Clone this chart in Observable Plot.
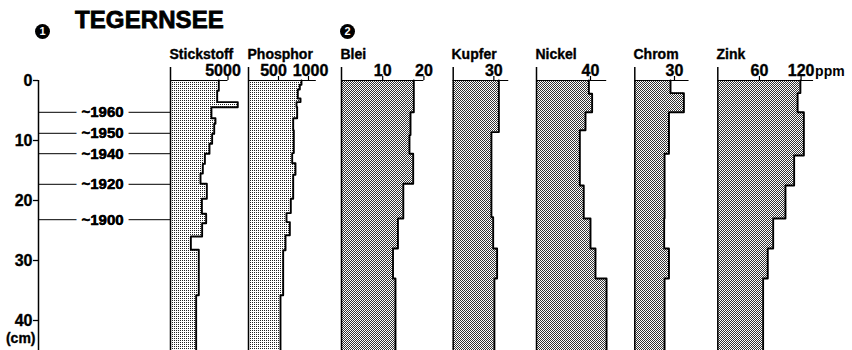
<!DOCTYPE html>
<html>
<head>
<meta charset="utf-8">
<script src="https://cdn.jsdelivr.net/npm/d3@7"></script>
<script src="https://cdn.jsdelivr.net/npm/@observablehq/plot@0.6"></script>
<style>
html, body { margin: 0; padding: 0; background: #fff; }
#chart { position: relative; width: 852px; height: 350px; overflow: hidden; font-family: 'Liberation Sans', Arial, sans-serif; }
#chart svg { position: absolute; top: 0; }
.title { position: absolute; left: 75px; top: 6px; font-size: 24px; font-weight: bold; line-height: 28px; letter-spacing: 0.1px; -webkit-text-stroke: 0.8px #000; }
.num { position: absolute; width: 15px; height: 15px; border-radius: 50%; background: #000; color: #fff; font-size: 11px; font-weight: bold; line-height: 15px; text-align: center; }
</style>
</head>
<body>
<svg width="0" height="0" style="position:absolute">
  <defs>
    <pattern id="dotsLight" width="2" height="2" patternUnits="userSpaceOnUse">
      <rect width="2" height="2" fill="#fff"/>
      <rect width="1" height="1" fill="#222"/>
    </pattern>
    <pattern id="dotsDark" width="2" height="2" patternUnits="userSpaceOnUse">
      <rect width="2" height="2" fill="#fff"/>
      <rect width="1" height="1" fill="#333"/>
      <rect x="1" y="1" width="1" height="1" fill="#333"/>
    </pattern>
  </defs>
</svg>
<div id="chart">
  <div class="title">TEGERNSEE</div>
  <div class="num" style="left:35px;top:24px">1</div>
  <div class="num" style="left:340px;top:24px">2</div>
</div>
<script>
// ---- data (depth in cm = top of each layer, values per layer) ----
const depthTicks = [0, 10, 20, 30, 40];
const dateDepth = [5.3, 8.8, 12.2, 17.3, 23.2];
const dateLabels = ["~1960", "~1950", "~1940", "~1920", "~1900"];

const panelLabels = ["Stickstoff", "Phosphor", "Blei", "Kupfer", "Nickel", "Chrom", "Zink"];

const stickstoffDepth = [0, 1.7, 3.6, 4.45, 6.3, 7.2, 8.9, 10.55, 12.2, 13.9, 15.5, 17.2, 19.7, 22.2, 23.8, 26, 28.2, 35.8];
const stickstoff      = [4200, 4060, 5850, 3560, 3910, 3800, 3620, 3390, 2990, 2810, 2610, 3160, 2730, 3100, 2750, 1770, 2460, 2230];
const stickstoffTicks = [5000];

const phosphorDepth = [0, 0.7, 1.5, 3.0, 3.6, 4.4, 6.3, 8.3, 12.1, 13.8, 15.7, 19.7, 22.1, 23.6, 25.8, 28.3, 35.8];
const phosphor      = [883, 855, 822, 867, 800, 811, 745, 755, 728, 783, 745, 705, 633, 689, 617, 578, 533];
const phosphorTicks = [500, 1000];

const bleiDepth = [0, 5.3, 9.1, 12.2, 17.2, 23.0, 28.0, 33.0];
const blei      = [17.55, 16.75, 16.5, 17.4, 15.0, 13.7, 12.5, 13.1];
const bleiTicks = [10, 20];

const kupferDepth = [0, 8.6, 22.8, 28.0, 33.0];
const kupfer      = [33.7, 28.2, 29.5, 32.4, 30.4];
const kupferTicks = [30];

const nickelDepth = [0, 2.2, 5.3, 8.3, 17.5, 23.0, 28.0, 33.0];
const nickel      = [38.8, 41.2, 36.3, 32.1, 35.0, 40.0, 43.7, 51.9];
const nickelTicks = [40];

const chromDepth = [0, 2.1, 5.3, 12.2, 23.0, 28.0, 33.0];
const chrom      = [27.0, 37.1, 25.8, 22.5, 22.2, 25.8, 22.5];
const chromTicks = [30];

const zinkDepth = [0, 2.1, 5.3, 12.5, 17.5, 23.0, 28.0, 33.0];
const zink      = [119, 115, 124, 110, 97.5, 79.8, 72, 65.3];
const zinkTicks = [60, 120];
const zinkUnit = "ppm";

// ---- layout ----
const FONT = "'Liberation Sans', Arial, sans-serif";
const baseStyle = { background: "transparent", overflow: "visible", fontFamily: FONT, fontSize: "14px", fontWeight: "bold", maxWidth: "none" };
const yScale = { domain: [0, 45], range: [80, 350], axis: null };
const heavy = { stroke: "#000", strokeWidth: 0.35, fill: "#000" };

const panels = [
  { label: panelLabels[0], depth: stickstoffDepth, values: stickstoff, ticks: stickstoffTicks, x0: 170, k: 57.5 / 5000, end: 5000, fill: "url(#dotsLight)", tickDx: [-5] },
  { label: panelLabels[1], depth: phosphorDepth, values: phosphor, ticks: phosphorTicks, x0: 248, k: 0.06, end: 1130, fill: "url(#dotsLight)", tickDx: [-5, 2] },
  { label: panelLabels[2], depth: bleiDepth, values: blei, ticks: bleiTicks, x0: 341, k: 4.12, end: 20, fill: "url(#dotsDark)" },
  { label: panelLabels[3], depth: kupferDepth, values: kupfer, ticks: kupferTicks, x0: 452.7, k: 1.355, end: 41, fill: "url(#dotsDark)" },
  { label: panelLabels[4], depth: nickelDepth, values: nickel, ticks: nickelTicks, x0: 536, k: 1.35, end: 52, fill: "url(#dotsDark)" },
  { label: panelLabels[5], depth: chromDepth, values: chrom, ticks: chromTicks, x0: 634.3, k: 1.323, end: 41, fill: "url(#dotsDark)" },
  { label: panelLabels[6], depth: zinkDepth, values: zink, ticks: zinkTicks, x0: 717.3, k: 0.694, end: 138, fill: "url(#dotsDark)", unit: zinkUnit }
];

const chart = document.getElementById("chart");

// left depth axis with date lines
const leftSvg = Plot.plot({
  width: 170, height: 350,
  marginLeft: 38, marginRight: 0, marginTop: 80, marginBottom: 0,
  x: { domain: [0, 1], axis: null },
  y: yScale,
  style: baseStyle,
  marks: [
    Plot.ruleY(dateDepth, { stroke: "#000", strokeWidth: 1 }),
    Plot.text(dateDepth, {
      y: d => d, text: (d, i) => dateLabels[i], frameAnchor: "middle", dx: -2,
      fill: "#000", stroke: "#fff", strokeWidth: 11, paintOrder: "stroke",
      fontSize: 15, fontWeight: "bold", lineAnchor: "middle"
    }),
    Plot.text(dateDepth, {
      y: d => d, text: (d, i) => dateLabels[i], frameAnchor: "middle", dx: -2,
      ...heavy, fontSize: 15, fontWeight: "bold", lineAnchor: "middle"
    }),
    Plot.ruleX([0], { stroke: "#000", strokeWidth: 1.5 }),
    Plot.ruleY(depthTicks, { x1: 0, x2: 0, insetLeft: -5, stroke: "#000", strokeWidth: 1.3 }),
    Plot.text(depthTicks, { y: d => d, text: d => String(d), frameAnchor: "left", dx: -6, textAnchor: "end", lineAnchor: "middle", fontSize: 16, fontWeight: "bold", ...heavy }),
    Plot.text(["(cm)"], { frameAnchor: "bottom-left", textAnchor: "end", dx: -3, dy: -12, lineAnchor: "middle", fontSize: 14, fontWeight: "bold", ...heavy })
  ]
});
leftSvg.style.left = "0px";
chart.appendChild(leftSvg);

// element panels
const ml = 10, mr = 45;
for (const p of panels) {
  const left = Math.floor(p.x0) - ml;
  const r0 = ml + (p.x0 - Math.floor(p.x0));
  const r1 = r0 + p.end * p.k;
  const width = Math.ceil(r1 + mr);
  const pts = p.depth.map((d, i) => ({ d, v: p.values[i] }));
  pts.push({ d: yScale.domain[1], v: p.values[p.values.length - 1] });
  const dxs = p.tickDx || p.ticks.map(() => 0);
  const marks = [
    Plot.areaX(pts, { x1: 0, x2: "v", y: "d", curve: "step-before", fill: p.fill }),
    Plot.lineX(pts, { x: "v", y: "d", curve: "step-before", stroke: "#000", strokeWidth: 1.9 }),
    Plot.ruleX([0], { y1: 0, y2: yScale.domain[1], insetTop: -13, stroke: "#000", strokeWidth: 1.5 }),
    Plot.ruleY([0], { x1: 0, x2: p.end, stroke: "#000", strokeWidth: 1.2 }),
    Plot.ruleX(p.ticks, { y1: 0, y2: 0, insetTop: -4, stroke: "#000", strokeWidth: 1.2 }),
    ...p.ticks.map((t, i) =>
      Plot.text([t], { x: d => d, text: d => String(d), frameAnchor: "top", dy: -5, dx: dxs[i], lineAnchor: "bottom", textAnchor: "middle", fontSize: 16, fontWeight: "bold", ...heavy })),
    Plot.text([p.label], { frameAnchor: "top-left", dx: -1, dy: -22, lineAnchor: "bottom", textAnchor: "start", fontSize: 14, fontWeight: "bold", ...heavy })
  ];
  if (p.unit) {
    marks.push(Plot.text([p.ticks[p.ticks.length - 1]], { x: d => d, text: () => p.unit, frameAnchor: "top", dx: 14, dy: -5, lineAnchor: "bottom", textAnchor: "start", fontSize: 14, fontWeight: "bold" }));
  }
  const svg = Plot.plot({
    width, height: 350,
    marginLeft: ml, marginRight: width - r1, marginTop: 80, marginBottom: 0,
    x: { domain: [0, p.end], range: [r0, r1], axis: null },
    y: yScale,
    style: baseStyle,
    marks
  });
  svg.style.left = left + "px";
  chart.appendChild(svg);
}
</script>
</body>
</html>
